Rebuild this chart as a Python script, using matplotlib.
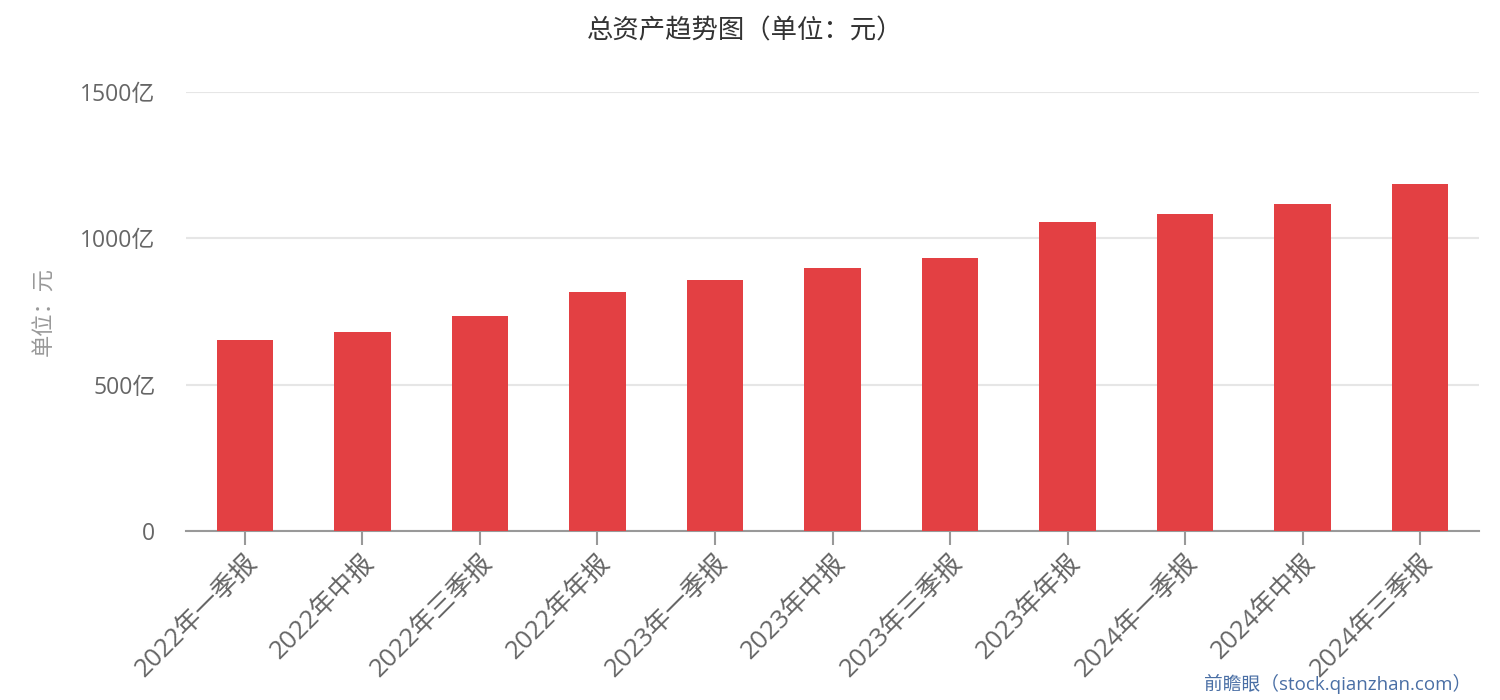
import matplotlib
matplotlib.use("Agg")
import matplotlib.pyplot as plt

plt.rcParams['font.family'] = ['Open Sans', 'Noto Sans CJK SC', 'DejaVu Sans']

# 报告期与总资产（亿元）
periods = ['2022年一季报', '2022年中报', '2022年三季报', '2022年年报',
           '2023年一季报', '2023年中报', '2023年三季报', '2023年年报',
           '2024年一季报', '2024年中报', '2024年三季报']
assets = [653, 680, 735, 817, 858, 900, 934, 1057, 1085, 1119, 1187]
yticks = [0, 500, 1000, 1500]
ylabels = ['0', '500亿', '1000亿', '1500亿']

fig = plt.figure(figsize=(15, 7), dpi=100)
ax = fig.add_axes([0.124, 0.242, 0.862, 0.626])

x = list(range(len(periods)))
ax.bar(x, assets, width=0.48, color='#e34043', zorder=3)

ax.set_xlim(-0.5, len(periods) - 0.5)
ax.set_ylim(0, 1500)
ax.set_yticks(yticks)
ax.set_yticklabels(ylabels, fontsize=16.5, color='#666666')
ax.tick_params(axis='y', length=0, pad=22)
ax.grid(axis='y', color='#e6e6e6', linewidth=1.5, zorder=0)

ax.set_xticks(x)
ax.set_xticklabels(periods, rotation=45, ha='right', rotation_mode='anchor',
                   fontsize=18.5, color='#666666')
ax.tick_params(axis='x', length=10, width=1.5, color='#999999', pad=4)

for s in ['top', 'right', 'left']:
    ax.spines[s].set_visible(False)
ax.spines['bottom'].set_color('#999999')
ax.spines['bottom'].set_linewidth(1.5)

ax.set_ylabel('单位：元', fontsize=16, color='#999999', labelpad=18)

fig.text(0.4965, 0.955, '总资产趋势图（单位：元）', ha='center', va='center',
         fontsize=19, color='#333333')
fig.text(0.981, 0.023, '前瞻眼（stock.qianzhan.com）', ha='right', va='center',
         fontsize=13.5, color='#4a6fa5')

fig.savefig('out.png', dpi=100)
